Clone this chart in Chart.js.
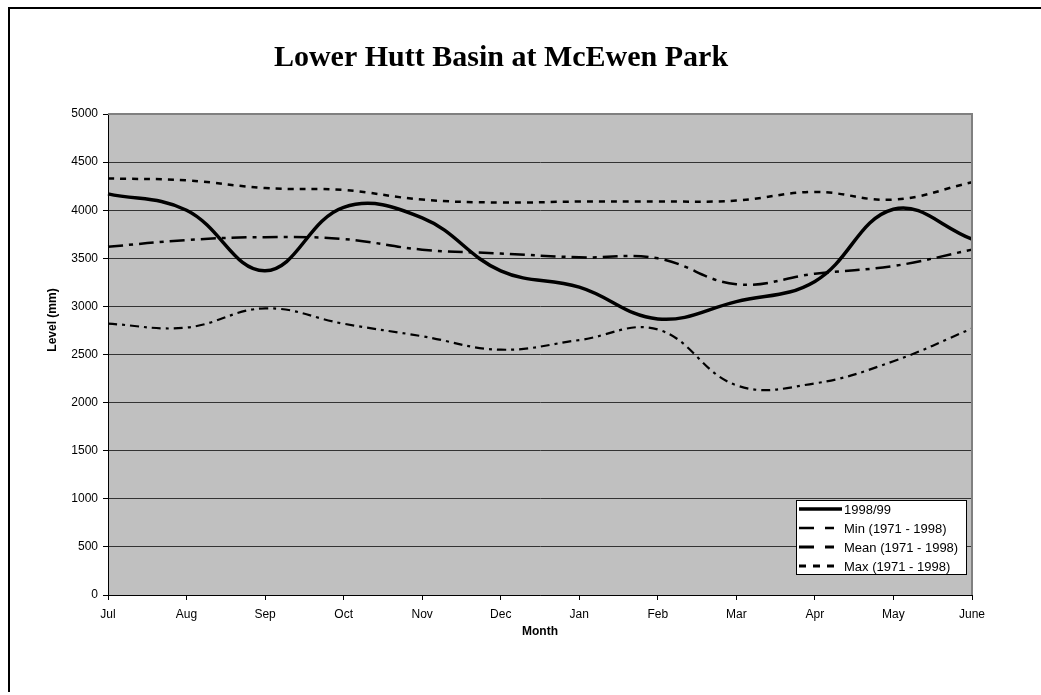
<!DOCTYPE html>
<html>
<head>
<meta charset="utf-8">
<script src="https://cdn.jsdelivr.net/npm/chart.js@4/dist/chart.umd.min.js"></script>
<style>
  html, body { margin: 0; padding: 0; background: #ffffff; }
  #wrap { position: relative; width: 1041px; height: 695px; overflow: hidden; }
  #frame { position: absolute; left: 8px; top: 7px; width: 1100px; height: 685px; border-left: 2px solid #000; border-top: 2px solid #000; box-sizing: border-box; }
  canvas { position: absolute; left: 0; top: 0; }
</style>
</head>
<body>
<div id="wrap">
  <div id="frame"></div>
  <canvas id="c" width="1041" height="695"></canvas>
</div>
<script>
const chartTitle = 'Lower Hutt Basin at McEwen Park';
const xTitle = 'Month';
const yTitle = 'Level (mm)';
const months = ['Jul','Aug','Sep','Oct','Nov','Dec','Jan','Feb','Mar','Apr','May','June'];
const level9899 = [4170, 4000, 3370, 4030, 3920, 3370, 3200, 2870, 3050, 3260, 4010, 3700];
const minLevel  = [2820, 2780, 2980, 2820, 2690, 2550, 2650, 2760, 2180, 2200, 2430, 2770];
const meanLevel = [3620, 3690, 3720, 3700, 3590, 3550, 3510, 3500, 3230, 3340, 3420, 3590];
const maxLevel  = [4330, 4310, 4230, 4210, 4110, 4080, 4090, 4090, 4100, 4190, 4110, 4290];
const yTicks = [0, 500, 1000, 1500, 2000, 2500, 3000, 3500, 4000, 4500, 5000];

const SANS = '"Liberation Sans", Arial, sans-serif';

const plotBg = {
  id: 'plotBg',
  beforeDraw(chart) {
    const {ctx, chartArea: a} = chart;
    ctx.save();
    ctx.fillStyle = '#c0c0c0';
    ctx.fillRect(a.left, a.top, a.right - a.left, a.bottom - a.top);
    ctx.restore();
  },
  afterDatasetsDraw(chart) {
    const {ctx, chartArea: a} = chart;
    ctx.save();
    ctx.strokeStyle = '#808080';
    ctx.lineWidth = 2;
    ctx.beginPath();
    ctx.moveTo(a.left, a.top); ctx.lineTo(a.right, a.top); ctx.lineTo(a.right, a.bottom);
    ctx.stroke();
    // y axis title (placed as in the original, above the plot's centre)
    ctx.fillStyle = '#000';
    ctx.font = 'bold 12px ' + SANS;
    ctx.textAlign = 'center';
    ctx.textBaseline = 'middle';
    ctx.translate(53, 320);
    ctx.rotate(-Math.PI / 2);
    ctx.fillText(yTitle, 0, 0);
    ctx.restore();
  }
};

const boxLegend = {
  id: 'boxLegend',
  afterDraw(chart) {
    const {ctx} = chart;
    const x0 = 796, y0 = 500, w = 170, h = 74;
    ctx.save();
    ctx.fillStyle = '#ffffff';
    ctx.fillRect(x0, y0, w, h);
    ctx.strokeStyle = '#000';
    ctx.lineWidth = 1;
    ctx.strokeRect(x0 + 0.5, y0 + 0.5, w, h);
    const rows = [509, 528, 547, 566];
    chart.data.datasets.forEach((ds, i) => {
      const y = rows[i];
      ctx.strokeStyle = ds.borderColor;
      ctx.lineWidth = ds.legendWidth;
      ctx.setLineDash(ds.legendDash);
      ctx.beginPath();
      ctx.moveTo(x0 + 3, y);
      ctx.lineTo(x0 + (i === 0 ? 46 : 38), y);
      ctx.stroke();
      ctx.setLineDash([]);
      ctx.fillStyle = '#000';
      ctx.font = '13px ' + SANS;
      ctx.textBaseline = 'middle';
      ctx.textAlign = 'left';
      ctx.fillText(ds.label, x0 + 48, y + 1);
    });
    ctx.restore();
  }
};

new Chart(document.getElementById('c'), {
  type: 'line',
  data: {
    labels: months,
    datasets: [
      { label: '1998/99', data: level9899, borderColor: '#000', borderWidth: 3.5, borderDash: [], legendDash: [], legendWidth: 3.5 },
      { label: 'Min (1971 - 1998)', data: minLevel, borderColor: '#000', borderWidth: 2.2, borderDash: [9, 5, 3, 5], legendDash: [15, 11, 9, 11], legendWidth: 2.5 },
      { label: 'Mean (1971 - 1998)', data: meanLevel, borderColor: '#000', borderWidth: 2.5, borderDash: [15, 6, 4, 6], legendDash: [15, 11, 9, 11], legendWidth: 3 },
      { label: 'Max (1971 - 1998)', data: maxLevel, borderColor: '#000', borderWidth: 2.5, borderDash: [6, 6], legendDash: [7, 7], legendWidth: 3 }
    ]
  },
  options: {
    responsive: false,
    animation: false,
    devicePixelRatio: 1,
    elements: { point: { radius: 0 }, line: { tension: 0.4, fill: false } },
    layout: { padding: { left: 30, right: 69, top: 0, bottom: 40 } },
    plugins: {
      legend: { display: false },
      tooltip: { enabled: false },
      title: {
        display: true,
        text: chartTitle,
        color: '#000',
        font: { family: '"Liberation Serif", "Times New Roman", serif', size: 30, weight: 'bold', lineHeight: 1.2 },
        padding: { top: 40, bottom: 38 }
      }
    },
    scales: {
      x: {
        offset: false,
        afterFit(s) { s.height = 60; },
        grid: { display: true, drawOnChartArea: false, drawTicks: true, tickLength: 5, color: '#000', tickColor: '#000' },
        border: { display: true, color: '#000', width: 1 },
        ticks: { color: '#000', padding: 7, maxRotation: 0, autoSkip: false, font: { family: SANS, size: 12 } },
        title: { display: true, text: xTitle, color: '#000', padding: { top: 16, bottom: 16 }, font: { family: SANS, size: 12, weight: 'bold' } }
      },
      y: {
        min: 0, max: 5000,
        afterFit(s) { s.width = 78; },
        afterBuildTicks(s) { s.ticks = yTicks.map(v => ({ value: v })); },
        grid: { display: true, drawOnChartArea: true, drawTicks: true, tickLength: 5, color: '#333', tickColor: '#000', lineWidth: 1 },
        border: { display: true, color: '#000', width: 1 },
        ticks: { color: '#000', padding: 5, font: { family: SANS, size: 12 }, callback: v => String(v) },
        title: { display: false }
      }
    }
  },
  plugins: [plotBg, boxLegend]
});
</script>
</body>
</html>
